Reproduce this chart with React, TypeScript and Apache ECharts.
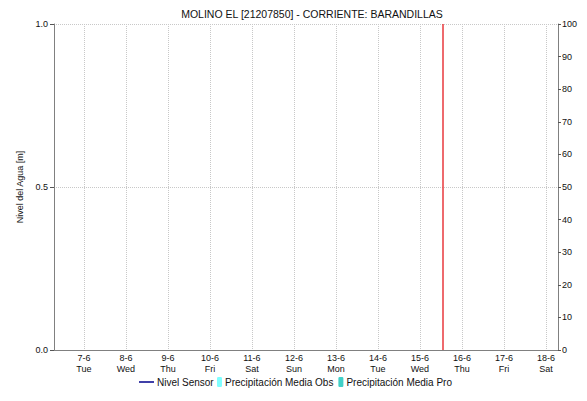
import React, { useEffect, useRef } from "react";
import * as echarts from "echarts";

const titleText = "MOLINO EL [21207850] - CORRIENTE: BARANDILLAS";
const tickDays = [7, 8, 9, 10, 11, 12, 13, 14, 15, 16, 17, 18];
const tickDates = ["7-6", "8-6", "9-6", "10-6", "11-6", "12-6", "13-6", "14-6", "15-6", "16-6", "17-6", "18-6"];
const tickWeekdays = ["Tue", "Wed", "Thu", "Fri", "Sat", "Sun", "Mon", "Tue", "Wed", "Thu", "Fri", "Sat"];
const xRange = [6.2875, 18.2875];
const nowMarker = [15.537];
const nivelSensor: [number, number][] = [];
const precipObs: [number, number][] = [];
const precipPro: [number, number][] = [];
const leftTicks = [0, 0.5, 1];
const rightTicks = [0, 10, 20, 30, 40, 50, 60, 70, 80, 90, 100];

const FONT = "Liberation Sans, Arial, sans-serif";

export default function App() {
  const ref = useRef<HTMLDivElement>(null);
  useEffect(() => {
    if (!ref.current) return;
    const chart = echarts.init(ref.current, undefined, { renderer: "svg" });
    const isInt = (v: number) => Math.abs(v - Math.round(v)) < 1e-6;
    chart.setOption({
      animation: false,
      textStyle: { fontFamily: FONT },
      title: {
        text: titleText,
        left: 307,
        textAlign: "center",
        top: 3,
        textStyle: { fontSize: 10.5, fontWeight: "normal", color: "#111", fontFamily: FONT },
      },
      grid: { left: 54, right: 29, top: 24, bottom: 51, containLabel: false, outerBoundsMode: "none" },
      legend: [
        {
          data: [{ name: "Nivel Sensor", icon: "rect", itemStyle: { color: "#00008b" } }],
          left: 134,
          top: 372,
          itemWidth: 15,
          itemHeight: 1.5,
          textStyle: { fontSize: 10, color: "#111", fontFamily: FONT, padding: [0, 0, 0, -2] },
          itemGap: 5,
        },
        {
          data: ["Precipitación Media Obs", "Precipitación Media Pro"],
          left: 212,
          top: 372,
          itemWidth: 5,
          itemHeight: 10,
          itemGap: 5,
          textStyle: { fontSize: 10, color: "#111", fontFamily: FONT, padding: [0, 0, 0, -2] },
        },
      ],
      xAxis: [
        {
          type: "value",
          min: xRange[0],
          max: xRange[1],
          splitNumber: 12,
          minInterval: 1,
          maxInterval: 1,
          axisLine: { show: true, lineStyle: { color: "#444", type: "dotted", width: 1 } },
          axisTick: { show: false },
          axisLabel: {
            fontSize: 9,
            color: "#111",
            lineHeight: 10.5,
            margin: 3,
            showMinLabel: false,
            showMaxLabel: false,
            formatter: (v: number) => {
              if (!isInt(v)) return "";
              const i = tickDays.indexOf(Math.round(v));
              return i >= 0 ? `${tickDates[i]}\n${tickWeekdays[i]}` : "";
            },
          },
          splitLine: { show: true, lineStyle: { color: "#c8c8c8", type: "dotted", width: 1 } },
        },
        {
          type: "value",
          position: "top",
          min: xRange[0],
          max: xRange[1],
          axisLine: { show: true, lineStyle: { color: "#808080", width: 1 } },
          axisTick: { show: false },
          axisLabel: { show: false },
          splitLine: { show: false },
        },
      ],
      yAxis: [
        {
          type: "value",
          min: leftTicks[0],
          max: leftTicks[leftTicks.length - 1],
          interval: 0.5,
          name: "Nivel del Agua [m]",
          nameLocation: "middle",
          nameGap: 22,
          nameTextStyle: { fontSize: 9, color: "#111", fontFamily: FONT },
          axisLine: { show: true, lineStyle: { color: "#808080", width: 1 } },
          axisTick: { show: true, inside: false, length: 4, lineStyle: { color: "#555" } },
          axisLabel: { fontSize: 9, color: "#111", margin: 6, formatter: (v: number) => v.toFixed(1) },
          splitLine: { show: true, lineStyle: { color: "#c8c8c8", type: "dotted", width: 1 } },
        },
        {
          type: "value",
          position: "right",
          min: rightTicks[0],
          max: rightTicks[rightTicks.length - 1],
          interval: 10,
          name: "Precipitación [mm]",
          nameLocation: "middle",
          nameGap: 29,
          nameTextStyle: { fontSize: 9, color: "#111", fontFamily: FONT },
          axisLine: { show: true, lineStyle: { color: "#808080", width: 1 } },
          axisTick: { show: true, inside: false, length: 3, lineStyle: { color: "#555" } },
          axisLabel: { fontSize: 9, color: "#111", margin: 4 },
          splitLine: { show: false },
        },
      ],
      series: [
        {
          name: "Nivel Sensor",
          type: "line",
          xAxisIndex: 0,
          yAxisIndex: 0,
          data: nivelSensor,
          symbol: "none",
          showSymbol: false,
          itemStyle: { color: "#00008b" },
          lineStyle: { color: "#00008b", width: 1.5 },
          markLine: {
            silent: true,
            symbol: "none",
            label: { show: false },
            lineStyle: { color: "#e8383d", width: 1.5, type: "solid" },
            data: nowMarker.map((x) => ({ xAxis: x })),
          },
        },
        {
          name: "Precipitación Media Obs",
          type: "bar",
          xAxisIndex: 0,
          yAxisIndex: 1,
          data: precipObs,
          itemStyle: { color: "#80ffff" },
        },
        {
          name: "Precipitación Media Pro",
          type: "bar",
          xAxisIndex: 0,
          yAxisIndex: 1,
          data: precipPro,
          itemStyle: { color: "#40d0c8" },
        },
      ],
    });
    return () => chart.dispose();
  }, []);
  return <div ref={ref} style={{ width: 587, height: 401, position: "absolute", left: 0, top: 0 }} />;
}
